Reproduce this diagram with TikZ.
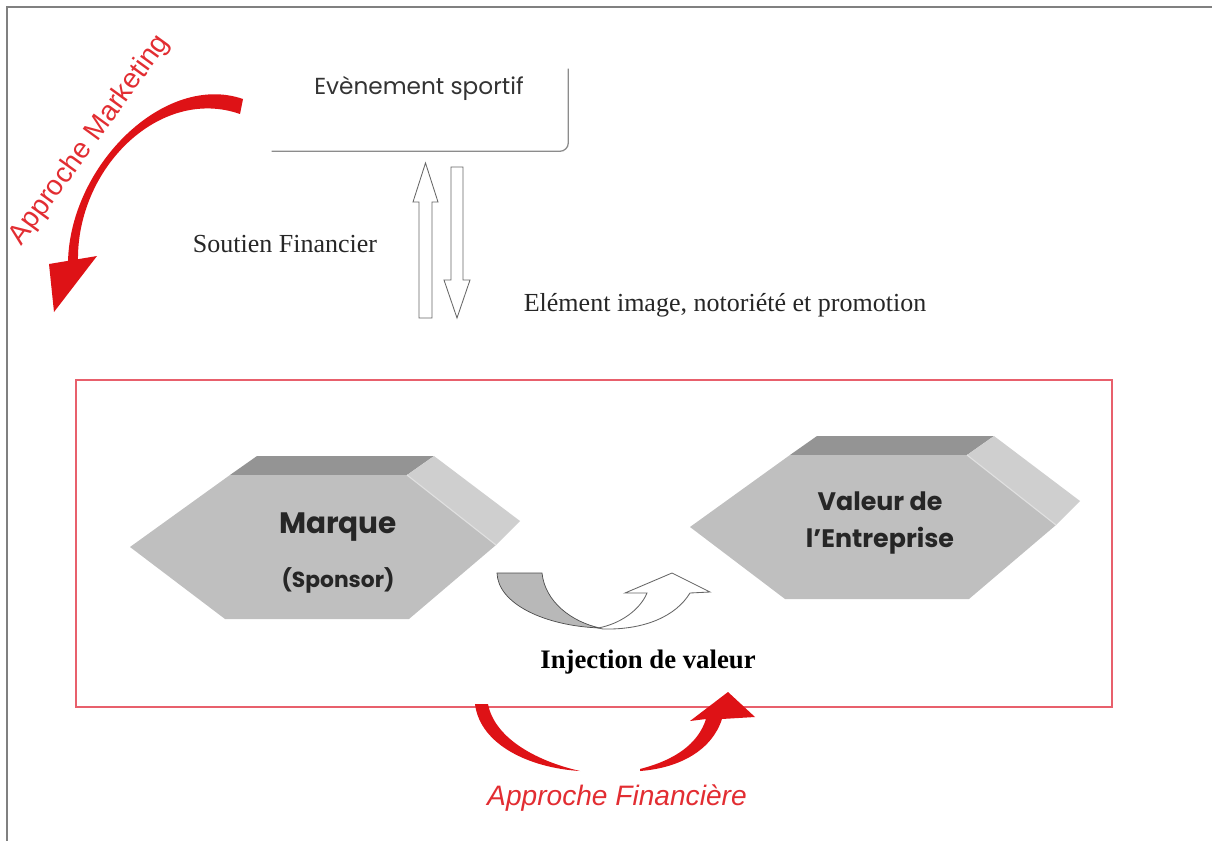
\documentclass[tikz,border=0pt]{standalone}
\usepackage{fontspec}
\setmainfont{Liberation Serif}
\newfontfamily\gothic{Poppins}
\newfontfamily\arialfont{Liberation Sans}
\usepackage{tikz}
\usetikzlibrary{positioning}
\definecolor{arrowred}{RGB}{222,18,22}
\definecolor{textred}{RGB}{226,45,50}
\definecolor{framered}{RGB}{232,96,108}

\tikzset{
	pageline/.style={draw=black!50,line width=1.1pt},
	evbox/.style={inner sep=0pt,minimum width=7.45cm,text height=0.74cm,text depth=1.41cm,font=\gothic\fontsize{16.5}{19}\selectfont,text=black!80},
	evshadow/.style={draw=black!45,line width=0.9pt,rounded corners=6pt},
	hollow/.style={draw=black!60,fill=white,line width=0.6pt,line join=miter},
	serifnote/.style={font=\fontsize{18.5}{22}\selectfont,text=black!85},
	redframe/.style={draw=framered,line width=1pt},
	frontface/.style={fill=black!25},
	topface/.style={fill=black!42},
	sideface/.style={fill=black!19},
	prismtext/.style={font=\gothic\bfseries\fontsize{18}{26}\selectfont,align=center,text=black!85},
	redtext/.style={font=\arialfont\fontsize{20}{24}\selectfont,text=textred}
}

\begin{document}
\begin{tikzpicture}[x=0.025cm,y=-0.025cm]
	\useasboundingbox (0,0) rectangle (1212,841);
	\draw[pageline] (7,841) -- (7,7) -- (1212,7);
	% evenement
	\node[evbox] (event) at (419,108) {Evènement sportif};
	\draw[evshadow] ([xshift=0.05cm]event.south west) -- (event.south east) -- ([yshift=-0.1cm]event.north east);
	\draw[hollow] (419,318) -- (419,202) -- (413,202) -- (425.5,163) -- (438,202) -- (432,202) -- (432,318) -- cycle;
	\draw[hollow] (451,167) -- (463,167) -- (463,280) -- (470,280) -- (457,318) -- (444,280) -- (451,280) -- cycle;
	\node[serifnote] (soutien) at (285,244) {Soutien Financier};
	\node[serifnote] (element) at (725,305) {Elément image, notoriété et promotion};
	% cadre
	\draw[redframe] (76,380) rectangle (1112,707);
	\foreach \px/\py/\nm in {130/475/marque,690/455/valeur}{
		\fill[topface] (\px+100,\py) -- (\px+127,\py-19) -- (\px+304,\py-19) -- (\px+277,\py) -- cycle;
		\fill[sideface] (\px+277,\py) -- (\px+304,\py-19) -- (\px+390,\py+46) -- (\px+366,\py+70) -- cycle;
		\fill[frontface] (\px,\py+72) -- (\px+100,\py) -- (\px+277,\py) -- (\px+366,\py+70) -- (\px+279,\py+144) -- (\px+95,\py+144) -- cycle;
		\draw[black!12,line width=0.8pt] (\px+277,\py) -- (\px+366,\py+70);
	}
	\node[prismtext,font=\gothic\bfseries\fontsize{21}{26}\selectfont] (marque) at (338,527) {Marque};
	\node[prismtext,font=\gothic\bfseries\fontsize{15.5}{20}\selectfont] (sponsor) at (338,580) {(Sponsor)};
	\node[prismtext] (valeur) at (880,523) {Valeur de\\l’Entreprise};
	% injection
	\filldraw[fill=black!28,draw=black!70,line width=0.5pt] (497,573) -- (542,573) .. controls (545,602) and (572,622) .. (600,628) .. controls (545,626) and (498,604) .. (497,573) -- cycle;
	\draw[hollow] (598,628) .. controls (620,624) and (640,610) .. (647,593) -- (625,593) -- (672,573) -- (710,592) -- (690,593) .. controls (676,616) and (645,630) .. (603,629) -- cycle;
	\node[serifnote,font=\bfseries\fontsize{19}{22}\selectfont,text=black] (injection) at (648,662) {Injection de valeur};
	% fleches rouges
	\fill[arrowred] (243,99) .. controls (165,72) and (70,165) .. (68,262) -- (78,262) .. controls (76,168) and (160,86) .. (240,114) -- cycle;
	\fill[arrowred] (97,256) -- (54,312) -- (49,264) -- cycle;
	\node[redtext,rotate=54] (marketing) at (90,140) {Approche Marketing};
	\fill[arrowred] (475,704) .. controls (480,745) and (530,768) .. (580,771) .. controls (540,762) and (495,740) .. (488,704) -- cycle;
	\fill[arrowred] (640,769) .. controls (675,760) and (698,744) .. (706,719) -- (690,721) -- (728,692) -- (755,717) -- (722,719) .. controls (712,750) and (680,768) .. (640,771) -- cycle;
	\node[redtext,font=\arialfont\itshape\fontsize{20}{24}\selectfont] (financiere) at (617,798) {Approche Financière};
\end{tikzpicture}
\end{document}
